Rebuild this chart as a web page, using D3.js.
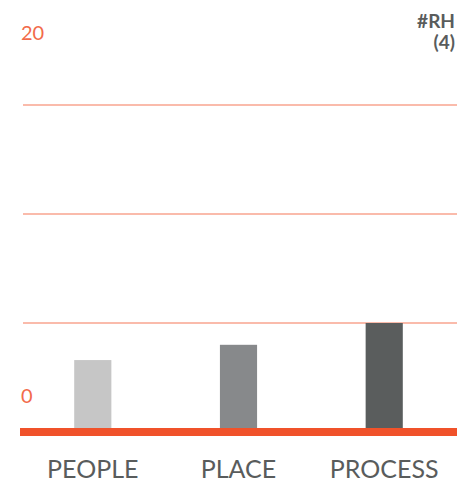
<!DOCTYPE html>
<html lang="en">
<head>
    <meta charset="UTF-8">
    <title>RH</title>
    <script src="https://cdn.jsdelivr.net/npm/d3@7/dist/d3.min.js"></script>
    <style>
        body {
            margin: 0;
            background: #ffffff;
        }

        svg {
            display: block;
        }

        text {
            font-family: Lato, "Open Sans", sans-serif;
        }
    </style>
</head>
<body>
<svg class="svg"></svg>

<script>

    var categories = ['PEOPLE', 'PLACE', 'PROCESS'];
    var values = [3.3, 4, 5];
    var barColors = ['#c6c6c6', '#87898b', '#5a5d5d'];
    var gridTicks = [5, 10, 15];
    var tickLabels = [0, 20];
    var titleLines = ['#RH', '(4)'];

    var width = 457;
    var height = 495;
    var svg = d3.select('svg')
        .attr('width', width)
        .attr('height', height);

    var left = 20;
    var base = 432;

    var x = d3.scaleBand()
        .domain(categories)
        .range([left, width])
        .paddingInner(0.745)
        .paddingOuter(0.372);

    var y = d3.scaleLinear()
        .domain([0, 20])
        .range([base, base - 109 * 4]);

    // grid lines
    svg.append('g')
        .selectAll('line')
        .data(gridTicks)
        .enter()
        .append('line')
        .attr('x1', left + 3)
        .attr('x2', width)
        .attr('y1', function (d) { return y(d); })
        .attr('y2', function (d) { return y(d); })
        .attr('stroke', '#f9a48f')
        .attr('stroke-width', 1.5);

    // bars
    svg.append('g')
        .selectAll('rect')
        .data(values)
        .enter()
        .append('rect')
        .attr('x', function (d, i) { return x(categories[i]); })
        .attr('width', x.bandwidth())
        .attr('y', function (d) { return y(d); })
        .attr('height', function (d) { return y(0) - y(d); })
        .attr('fill', function (d, i) { return barColors[i]; });

    // baseline
    svg.append('line')
        .attr('x1', left)
        .attr('x2', width)
        .attr('y1', y(0))
        .attr('y2', y(0))
        .attr('stroke', '#f0522a')
        .attr('stroke-width', 8);

    // y labels (0 sits above the baseline, 20 below the top)
    svg.append('g')
        .selectAll('text')
        .data(tickLabels)
        .enter()
        .append('text')
        .attr('x', left + 1)
        .attr('y', function (d) { return d === 0 ? y(d) - 36 : y(d) + 37; })
        .attr('dy', '0.35em')
        .attr('fill', '#f26b4a')
        .style('font-size', '20px')
        .text(function (d) { return d; });

    // category labels
    svg.append('g')
        .selectAll('text')
        .data(categories)
        .enter()
        .append('text')
        .attr('x', function (d) { return x(d) + x.bandwidth() / 2; })
        .attr('y', 478)
        .attr('text-anchor', 'middle')
        .attr('fill', '#595c5c')
        .style('font-size', '25px')
        .text(function (d) { return d; });

    // corner title
    svg.append('g')
        .selectAll('text')
        .data(titleLines)
        .enter()
        .append('text')
        .attr('x', 455)
        .attr('y', function (d, i) { return 28 + i * 21; })
        .attr('text-anchor', 'end')
        .attr('fill', '#595c5c')
        .style('font-size', '19px')
        .style('font-weight', 'bold')
        .text(function (d) { return d; });

</script>

</body>
</html>
